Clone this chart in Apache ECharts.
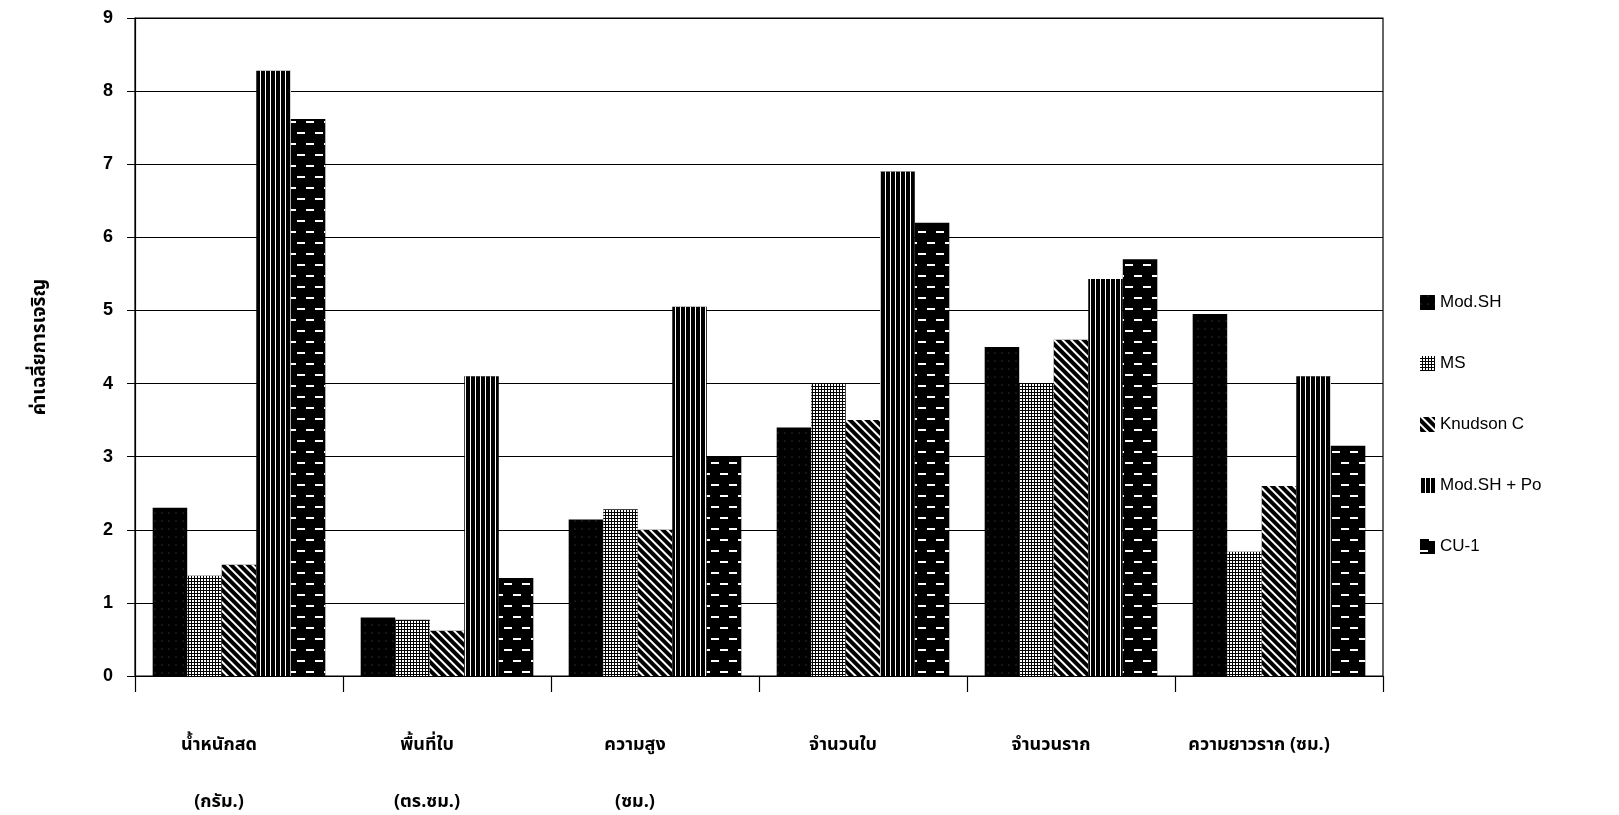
<!DOCTYPE html>
<html>
<head>
<meta charset="utf-8">
<script src="https://cdn.jsdelivr.net/npm/echarts@6/dist/echarts.min.js"></script>
<style>
html,body{margin:0;padding:0;background:#fff;}
#chart{width:1619px;height:815px;}
</style>
</head>
<body>
<div id="chart"></div>
<script>
const categories = ['น้ำหนักสด\n(กรัม.)', 'พื้นที่ใบ\n(ตร.ซม.)', 'ความสูง\n(ซม.)', 'จำนวนใบ', 'จำนวนราก', 'ความยาวราก (ซม.)'];
const seriesNames = ['Mod.SH', 'MS', 'Knudson C', 'Mod.SH + Po', 'CU-1'];
const modSH   = [2.3, 0.8, 2.14, 3.4, 4.5, 4.95];
const ms      = [1.37, 0.77, 2.28, 4.0, 4.0, 1.7];
const knudson = [1.52, 0.62, 2.0, 3.5, 4.6, 2.6];
const modSHPo = [8.28, 4.1, 5.05, 6.9, 5.43, 4.1];
const cu1     = [7.62, 1.34, 3.0, 6.2, 5.7, 3.15];
const yTicks  = [0, 1, 2, 3, 4, 5, 6, 7, 8, 9];
const yTitle  = 'ค่าเฉลี่ยการเจริญ';

const seriesValues = [modSH, ms, knudson, modSHPo, cu1];
const decals = [
  {symbol:'circle', color:'rgba(255,255,255,0.45)', symbolSize:0.5, dashArrayX:[2,5], dashArrayY:[2,6]},
  {symbol:'rect', color:'#ffffff', dashArrayX:[2,1], dashArrayY:[2,1]},
  {symbol:'rect', color:'#ffffff', dashArrayX:[2,4], dashArrayY:[10,0], rotation:-Math.PI/4},
  {symbol:'rect', color:'#ffffff', dashArrayX:[1,4], dashArrayY:[10,0]},
  {symbol:'rect', color:'#ffffff', dashArrayX:[[8,10],[0,9,8,1]], dashArrayY:[2,9]}
];
const thaiFont = "'Noto Sans Thai', 'Noto Sans', 'DejaVu Sans', sans-serif";

const chart = echarts.init(document.getElementById('chart'), null, {renderer:'canvas'});
chart.setOption({
  backgroundColor:'#ffffff',
  animation:false,
  grid:{left:135, right:236, top:18, bottom:139, show:true, borderColor:'#000', borderWidth:1.2,
        containLabel:false, outerBoundsMode:'none'},
  legend:{
    orient:'vertical', left:1415, top:289, itemGap:44, itemWidth:15, itemHeight:15, icon:'rect',
    textStyle:{fontFamily:'Liberation Sans, Arial, sans-serif', fontSize:17, color:'#000'},
    data:seriesNames
  },
  xAxis:{
    type:'category', data:categories,
    axisLine:{lineStyle:{color:'#000', width:1.2}},
    axisTick:{show:true, length:16, lineStyle:{color:'#000', width:1.2}},
    axisLabel:{margin:42, lineHeight:57, padding:[0,40,0,0], fontFamily:thaiFont, fontWeight:'bold', fontSize:18, color:'#000'}
  },
  yAxis:{
    type:'value', min:0, max:9, interval:1,
    name:yTitle, nameLocation:'middle', nameGap:84, nameRotate:90,
    nameTextStyle:{fontFamily:thaiFont, fontWeight:'bold', fontSize:19, color:'#000'},
    axisLine:{show:true, lineStyle:{color:'#000', width:1.2}},
    axisTick:{show:true, length:8, lineStyle:{color:'#000'}},
    splitLine:{show:true, lineStyle:{color:'#000', width:1.2}},
    axisLabel:{margin:22, fontFamily:'Liberation Sans, Arial, sans-serif', fontWeight:'bold', fontSize:18, color:'#000',
      formatter:function(v){return yTicks.indexOf(v) >= 0 ? String(v) : '';}}
  },
  series: seriesNames.map(function(name, i){
    return {
      name:name, type:'bar', data:seriesValues[i],
      barGap:'0%', barCategoryGap:'17%',
      itemStyle:{color:'#000', decal:decals[i]}
    };
  })
});
</script>
</body>
</html>
